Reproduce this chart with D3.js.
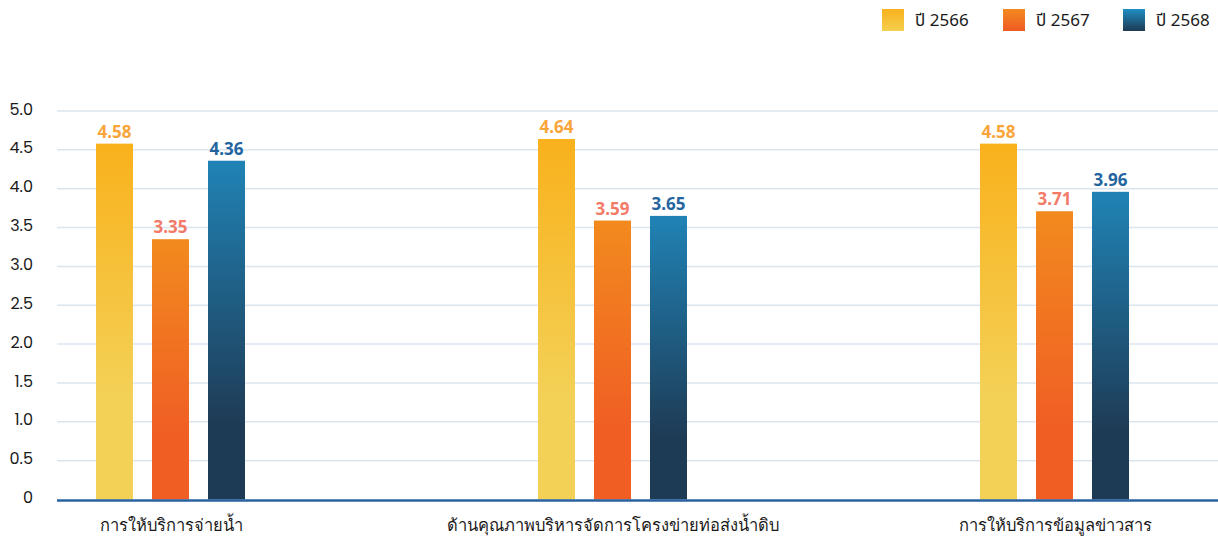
<!DOCTYPE html>
<html>
<head>
<meta charset="utf-8">
<script src="https://cdn.jsdelivr.net/npm/d3@7"></script>
<style>
  html, body { margin: 0; padding: 0; background: #fff; }
  svg { display: block; font-family: "Noto Sans", "Noto Sans Thai", "Open Sans", sans-serif; }
</style>
</head>
<body>
<svg id="chart" width="1218" height="542"></svg>
<script>
const categories = ["การให้บริการจ่ายน้ำ", "ด้านคุณภาพบริหารจัดการโครงข่ายท่อส่งน้ำดิบ", "การให้บริการข้อมูลข่าวสาร"];
const seriesNames = ["ปี 2566", "ปี 2567", "ปี 2568"];
const values2566 = [4.58, 4.64, 4.58];
const values2567 = [3.35, 3.59, 3.71];
const values2568 = [4.36, 3.65, 3.96];
const yTicks = [0, 0.5, 1.0, 1.5, 2.0, 2.5, 3.0, 3.5, 4.0, 4.5, 5.0];
const yTickLabels = ["0", "0.5", "1.0", "1.5", "2.0", "2.5", "3.0", "3.5", "4.0", "4.5", "5.0"];

const seriesValues = [values2566, values2567, values2568];
const barGrad = [
  [{o: 0, c: "#f9b11c"}, {o: 0.72, c: "#f3d157"}, {o: 1, c: "#f3d157"}],
  [{o: 0, c: "#f28a1e"}, {o: 0.75, c: "#f05e24"}, {o: 1, c: "#f05e24"}],
  [{o: 0, c: "#2083b5"}, {o: 0.78, c: "#1e3b55"}, {o: 1, c: "#1e3b55"}]
];
const legendGrad = [
  [{o: 0, c: "#f9b11c"}, {o: 1, c: "#f5cf4f"}],
  [{o: 0, c: "#f28a1e"}, {o: 1, c: "#f05a24"}],
  [{o: 0, c: "#1f8ec4"}, {o: 1, c: "#1e3a52"}]
];
const labelColors = ["#f9a53a", "#f47a68", "#24649f"];

const svg = d3.select("#chart");
const defs = svg.append("defs");
function addGrad(id, stops) {
  const g = defs.append("linearGradient").attr("id", id)
    .attr("x1", 0).attr("y1", 0).attr("x2", 0).attr("y2", 1);
  stops.forEach(s => g.append("stop").attr("offset", s.o).attr("stop-color", s.c));
}
barGrad.forEach((s, i) => addGrad("bar" + i, s));
legendGrad.forEach((s, i) => addGrad("leg" + i, s));

const plotLeft = 57, plotRight = 1218;
const y = d3.scaleLinear().domain([0, 5]).range([499.5, 111]);
const x0 = d3.scalePoint().domain(categories).range([170.5, 1054.5]);
const x1 = d3.scaleBand().domain(seriesNames).range([-74.5, 74.5]).paddingInner(19 / 56).paddingOuter(0);

// grid
svg.append("g").selectAll("line").data(yTicks.filter(t => t > 0)).join("line")
  .attr("x1", plotLeft).attr("x2", plotRight)
  .attr("y1", d => y(d)).attr("y2", d => y(d))
  .attr("stroke", "#dbe5ef").attr("stroke-width", 1.5);

// y axis labels
const yAxis = d3.axisLeft(y).tickValues(yTicks).tickSize(0).tickPadding(0)
  .tickFormat((d, i) => yTickLabels[i]);
const yg = svg.append("g").attr("transform", "translate(33,-2)").call(yAxis);
yg.select(".domain").remove();
yg.selectAll("text").attr("font-size", 16).attr("fill", "#1a1a1a")
  .attr("font-family", "Poppins, 'Noto Sans', sans-serif");

// bars
const groups = svg.append("g").selectAll("g").data(categories).join("g")
  .attr("transform", d => `translate(${x0(d)},0)`);
groups.each(function(cat, ci) {
  const g = d3.select(this);
  seriesNames.forEach((s, si) => {
    const v = seriesValues[si][ci];
    g.append("rect")
      .attr("x", x1(s)).attr("width", x1.bandwidth())
      .attr("y", y(v)).attr("height", y(0) - y(v))
      .attr("fill", `url(#bar${si})`);
    g.append("text")
      .attr("x", x1(s) + x1.bandwidth() / 2).attr("y", y(v) - 6)
      .attr("text-anchor", "middle").attr("font-size", 17).attr("font-weight", "bold")
      .attr("fill", labelColors[si]).text(v.toFixed(2));
  });
});

// baseline
svg.append("line").attr("x1", plotLeft).attr("x2", plotRight)
  .attr("y1", y(0) + 1).attr("y2", y(0) + 1)
  .attr("stroke", "#2862a0").attr("stroke-width", 2.5);

// x labels
const xAxis = d3.axisBottom(x0).tickSize(0).tickPadding(0);
const xg = svg.append("g").attr("transform", `translate(0,${y(0) + 20})`).call(xAxis);
xg.select(".domain").remove();
xg.selectAll("text").attr("font-size", 16.5).attr("fill", "#1a1a1a").attr("dy", "0.71em");

// legend
const legendX = [882, 1003, 1123];
const leg = svg.append("g").selectAll("g").data(seriesNames).join("g")
  .attr("transform", (d, i) => `translate(${legendX[i]},9)`);
leg.append("rect").attr("width", 22).attr("height", 22).attr("fill", (d, i) => `url(#leg${i})`);
leg.append("text").attr("x", 33).attr("y", 11).attr("dy", "0.35em")
  .attr("font-size", 17).attr("fill", "#1a1a1a").text(d => d);
</script>
</body>
</html>
